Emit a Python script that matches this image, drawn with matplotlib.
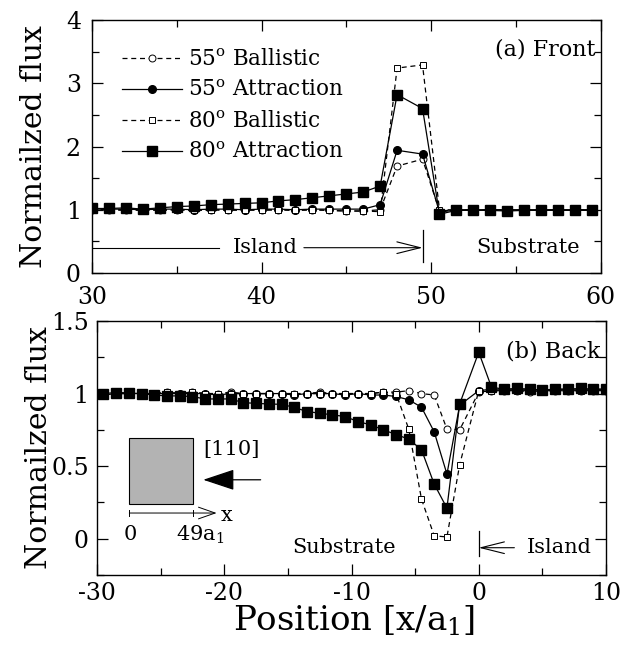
import numpy as np
import matplotlib
matplotlib.use("Agg")
import matplotlib.pyplot as plt
from matplotlib.patches import Rectangle

plt.rcParams['font.family'] = ['DejaVu Serif']
plt.rcParams['mathtext.fontset'] = 'dejavuserif'
plt.rcParams['axes.unicode_minus'] = False

# ---------------- (a) Front ----------------
xa = [30, 31, 32, 33, 34, 35, 36, 37, 38, 39, 40, 41, 42, 43, 44, 45, 46, 47, 48,
      49.5, 50.5, 51.5, 52.5, 53.5, 54.5, 55.5, 56.5, 57.5, 58.5, 59.5]
a55_ball = [1.00, 1.00, 0.99, 1.00, 0.99, 1.00, 0.99, 1.00, 0.99, 1.00, 0.99, 1.00, 0.99, 1.00, 0.99, 0.98, 0.98, 1.00, 1.69,
            1.80, 0.98, 1.00, 0.99, 1.00, 1.00, 0.99, 1.00, 1.00, 0.99, 1.00]
a55_attr = [1.01, 1.01, 1.01, 1.00, 1.01, 1.01, 1.00, 1.01, 1.01, 1.00, 1.01, 1.01, 1.00, 1.01, 1.01, 1.01, 1.01, 1.08, 1.94,
            1.88, 0.96, 1.00, 1.00, 1.00, 1.00, 1.00, 1.00, 1.00, 1.00, 1.00]
a80_ball = [1.00, 1.00, 1.00, 0.99, 1.00, 1.00, 0.99, 1.00, 1.00, 0.99, 1.00, 1.00, 0.99, 1.00, 0.99, 0.98, 0.98, 0.97, 3.24,
            3.29, 1.00, 1.00, 1.00, 1.00, 0.99, 1.00, 1.00, 0.99, 1.00, 1.00]
a80_attr = [1.02, 1.02, 1.03, 1.01, 1.03, 1.05, 1.06, 1.08, 1.09, 1.10, 1.11, 1.14, 1.16, 1.19, 1.22, 1.25, 1.28, 1.375, 2.82,
            2.60, 0.93, 0.99, 0.99, 0.99, 0.98, 0.99, 0.99, 0.99, 0.99, 0.99]

# ---------------- (b) Back ----------------
xb = [-29.5, -28.5, -27.5, -26.5, -25.5, -24.5, -23.5, -22.5, -21.5, -20.5,
      -19.5, -18.5, -17.5, -16.5, -15.5, -14.5, -13.5, -12.5, -11.5, -10.5,
      -9.5, -8.5, -7.5, -6.5, -5.5, -4.5, -3.5, -2.5, -1.5,
      0, 1, 2, 3, 4, 5, 6, 7, 8, 9, 10]
b55_ball = [1.00, 1.01, 1.00, 1.00, 1.00, 1.01, 1.00, 1.01, 1.00, 1.00,
            1.01, 1.00, 1.00, 1.00, 1.00, 1.00, 1.00, 1.01, 1.00, 1.00,
            1.00, 1.00, 1.01, 1.01, 1.02, 1.00, 0.99, 0.755, 0.75,
            1.01, 1.02, 1.02, 1.02, 1.01, 1.02, 1.02, 1.02, 1.02, 1.02, 1.02]
b55_attr = [0.99, 1.00, 1.00, 1.00, 1.00, 1.00, 1.00, 1.00, 1.00, 0.99,
            1.00, 1.00, 1.00, 1.00, 1.00, 0.99, 1.00, 1.00, 1.00, 0.99,
            1.00, 0.99, 0.99, 0.98, 0.957, 0.906, 0.736, 0.445, 0.92,
            1.02, 1.03, 1.03, 1.03, 1.03, 1.02, 1.03, 1.03, 1.03, 1.03, 1.03]
b80_ball = [1.00, 1.00, 1.00, 1.00, 1.00, 1.01, 1.00, 1.01, 1.00, 1.00,
            1.00, 1.00, 1.00, 1.00, 1.00, 1.00, 1.00, 1.00, 1.00, 1.00,
            1.00, 1.00, 1.01, 1.00, 0.755, 0.273, 0.02, 0.012, 0.51,
            1.02, 1.02, 1.02, 1.02, 1.02, 1.02, 1.02, 1.02, 1.02, 1.02, 1.02]
b80_attr = [1.00, 1.007, 1.003, 1.00, 0.99, 0.984, 0.984, 0.979, 0.963, 0.963,
            0.963, 0.937, 0.933, 0.928, 0.926, 0.905, 0.876, 0.865, 0.853, 0.842,
            0.807, 0.785, 0.75, 0.718, 0.686, 0.613, 0.376, 0.211, 0.929,
            1.285, 1.044, 1.03, 1.035, 1.03, 1.025, 1.03, 1.03, 1.035, 1.03, 1.03]

labels = ['55$^{\\rm o}$ Ballistic', '55$^{\\rm o}$ Attraction',
          '80$^{\\rm o}$ Ballistic', '80$^{\\rm o}$ Attraction']

fig = plt.figure(figsize=(6.43, 6.47), dpi=100)
axa = fig.add_axes([92/643, 1-273/647, 508.5/643, 253/647])
axb = fig.add_axes([97/643, 1-575/647, 509/643, 254/647])

dash = (0, (4, 3))


def draw_series(ax, x, s55b, s55a, s80b, s80a):
    h = []
    h += ax.plot(x, s55b, ls=dash, lw=0.9, color='black', marker='o', ms=5,
                 mfc='white', mec='black', mew=0.7)
    h += ax.plot(x, s55a, ls='-', lw=0.9, color='black', marker='o', ms=5.5,
                 mfc='black', mec='black')
    h += ax.plot(x, s80b, ls=dash, lw=0.9, color='black', marker='s', ms=5,
                 mfc='white', mec='black', mew=0.7)
    h += ax.plot(x, s80a, ls='-', lw=0.9, color='black', marker='s', ms=6.5,
                 mfc='black', mec='black')
    return h


ha = draw_series(axa, xa, a55_ball, a55_attr, a80_ball, a80_attr)
draw_series(axb, xb, b55_ball, b55_attr, b80_ball, b80_attr)

for ax in (axa, axb):
    ax.tick_params(which='both', direction='in', top=True, right=True,
                   labelsize=17, width=0.9)
    ax.tick_params(which='major', length=8, pad=6)
    ax.tick_params(which='minor', length=5)
    for sp in ax.spines.values():
        sp.set_linewidth(1.0)
    ax.set_ylabel('Normailzed flux', fontsize=21.5)
    ax.yaxis.set_label_coords(-0.087, 0.5)

axa.tick_params(axis='x', which='major', pad=9)
axa.tick_params(axis='y', which='major', pad=8)
axb.tick_params(axis='x', which='major', pad=5)

axa.set_xlim(30, 60)
axa.set_ylim(0, 4)
axa.set_xticks([30, 40, 50, 60])
axa.set_xticks([35, 45, 55], minor=True)
axa.set_yticks([0, 1, 2, 3, 4])
axa.set_yticks([0.5, 1.5, 2.5, 3.5], minor=True)

axb.set_xlim(-30, 10)
axb.set_ylim(-0.25, 1.5)
axb.set_xticks([-30, -20, -10, 0, 10])
axb.set_xticks([-25, -15, -5, 5], minor=True)
axb.set_yticks([0, 0.5, 1, 1.5])
axb.set_yticklabels(['0', '0.5', '1', '1.5'])
axb.set_yticks([-0.25, 0.25, 0.75, 1.25], minor=True)
axb.set_xlabel('Position [x/a$_1$]', fontsize=24.5)
axb.xaxis.set_label_coords(0.505, -0.112)

axa.legend(ha, labels, loc='upper left', bbox_to_anchor=(0.02, 0.965),
           frameon=False, fontsize=15.5, handlelength=2.8, handletextpad=0.3,
           labelspacing=0.42, numpoints=1)

axa.text(0.99, 0.885, '(a) Front', transform=axa.transAxes, ha='right',
         va='center', fontsize=16)
axb.text(0.99, 0.88, '(b) Back', transform=axb.transAxes, ha='right',
         va='center', fontsize=16)

# Island / Substrate markers, front panel
axa.plot([30, 37.5], [0.4, 0.4], color='black', lw=0.8)
axa.text(40.2, 0.4, 'Island', ha='center', va='center', fontsize=15)
axa.annotate('', xy=(49.5, 0.4), xytext=(42.5, 0.4),
             arrowprops=dict(arrowstyle='->,head_length=1.2,head_width=0.3',
                             lw=0.8, color='black', mutation_scale=14,
                             shrinkA=0, shrinkB=0))
axa.plot([49.5, 49.5], [0.17, 0.68], color='black', lw=0.9)
axa.text(55.7, 0.4, 'Substrate', ha='center', va='center', fontsize=15)

# Island / Substrate markers, back panel
axb.text(-10.6, -0.06, 'Substrate', ha='center', va='center', fontsize=15)
axb.text(6.3, -0.06, 'Island', ha='center', va='center', fontsize=15)
axb.annotate('', xy=(0, -0.062), xytext=(2.8, -0.062),
             arrowprops=dict(arrowstyle='->,head_length=1.2,head_width=0.3',
                             lw=0.8, color='black', mutation_scale=14,
                             shrinkA=0, shrinkB=0))
axb.plot([0, 0], [0.05, -0.12], color='black', lw=0.9)

# Inset sketch of the island and the beam direction
axb.add_patch(Rectangle((-27.46, 0.241), 5.02, 0.452, facecolor='#b3b3b3',
                        edgecolor='black', lw=0.8))
axb.annotate('', xy=(-21.65, 0.406), xytext=(-17.14, 0.406),
             arrowprops=dict(arrowstyle='-|>,head_length=0.9,head_width=0.3',
                             lw=0.9, color='black', fc='black',
                             mutation_scale=22, shrinkA=0, shrinkB=0))
axb.text(-19.4, 0.613, '[110]', ha='center', va='center', fontsize=15)
axb.annotate('', xy=(-20.6, 0.177), xytext=(-27.46, 0.177),
             arrowprops=dict(arrowstyle='->,head_length=1.0,head_width=0.35',
                             lw=0.7, color='black', mutation_scale=12,
                             shrinkA=0, shrinkB=0))
axb.plot([-27.46, -27.46], [0.155, 0.2], color='black', lw=0.7)
axb.plot([-22.44, -22.44], [0.155, 0.2], color='black', lw=0.7)
axb.text(-19.8, 0.16, 'x', ha='center', va='center', fontsize=15)
axb.text(-27.4, 0.03, '0', ha='center', va='center', fontsize=15)
axb.text(-21.9, 0.03, '49a$_1$', ha='center', va='center', fontsize=15)

fig.savefig('out.png', dpi=100)
